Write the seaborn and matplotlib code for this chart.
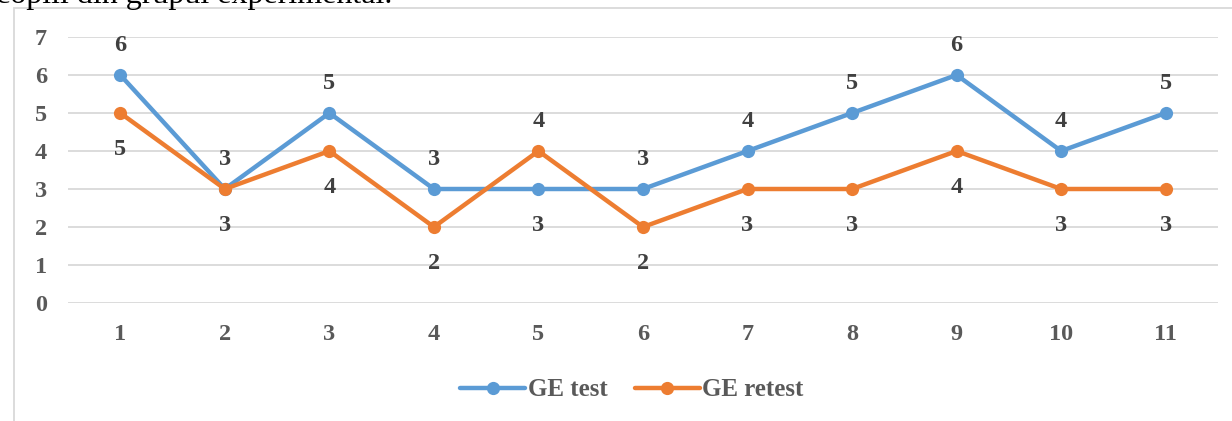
import pandas as pd
import matplotlib.pyplot as plt
import seaborn as sns
from matplotlib.patches import Rectangle
from matplotlib.lines import Line2D

# data
children = list(range(1, 12))
ge_test = [6, 3, 5, 3, 3, 3, 4, 5, 6, 4, 5]
ge_retest = [5, 3, 4, 2, 4, 2, 3, 3, 4, 3, 3]
series_names = ['GE test', 'GE retest']
colors = ['#5B9BD5', '#ED7D31']

df = pd.DataFrame({'copil': children, 'GE test': ge_test, 'GE retest': ge_retest})
long_df = df.melt(id_vars='copil', var_name='serie', value_name='scor')

sns.set_style('white')
plt.rcParams['font.family'] = ['Liberation Serif', 'DejaVu Serif']
plt.rcParams['font.weight'] = 'bold'

fig = plt.figure(figsize=(12.32, 4.21), dpi=100)
ax = fig.add_axes([68 / 1232, 1 - 303 / 421, 1150 / 1232, 266 / 421])

sns.lineplot(data=long_df, x='copil', y='scor', hue='serie', hue_order=series_names,
             palette=colors, marker='o', markersize=9.5, markeredgewidth=0,
             linewidth=3.2, ax=ax, legend=False, zorder=3)

# data labels: higher value above, lower value below
for x, a, b in zip(children, ge_test, ge_retest):
    hi, lo = max(a, b), min(a, b)
    ax.annotate(str(hi), (x, hi), xytext=(0, 21.5), textcoords='offset points',
                ha='center', va='center', fontsize=17.5, fontweight='bold', color='#404040')
    ax.annotate(str(lo), (x, lo), xytext=(0, -26.5), textcoords='offset points',
                ha='center', va='center', fontsize=17.5, fontweight='bold', color='#404040')

ax.set_xlim(0.5, 11.5)
ax.set_ylim(0, 7)
ax.set_xticks(children)
ax.set_yticks(range(0, 8))
ax.grid(axis='y', color='#D9D9D9', linewidth=1.3, zorder=0)
ax.grid(axis='x', visible=False)
for s in ax.spines.values():
    s.set_visible(False)
ax.tick_params(axis='both', length=0, labelsize=17.5, labelcolor='#595959')
ax.tick_params(axis='y', pad=15)
ax.tick_params(axis='x', pad=15)
ax.set_xlabel('')
ax.set_ylabel('')

handles = [Line2D([], [], color=c, linewidth=3.2, marker='o', markersize=9.5, markeredgewidth=0)
           for c in colors]
leg = fig.legend(handles, series_names, loc='center', bbox_to_anchor=(0.513, 1 - 390 / 421),
                 ncol=2, frameon=False, fontsize=18, handlelength=2.6, handletextpad=0.1,
                 columnspacing=1.1)
for t in leg.get_texts():
    t.set_color('#595959')

# chart frame and the cut-off caption above it
fig.add_artist(Rectangle((14 / 1232, -0.1), 1.2, 1.1 - 8.5 / 421, transform=fig.transFigure,
                         fill=False, edgecolor='#D9D9D9', linewidth=1.3))
fig.text(-4 / 1232, 1 - 3 / 421, 'copiii din grupul experimental.', fontsize=23,
         fontweight='normal', color='black', va='baseline', ha='left')

fig.savefig('out.png', dpi=100)
